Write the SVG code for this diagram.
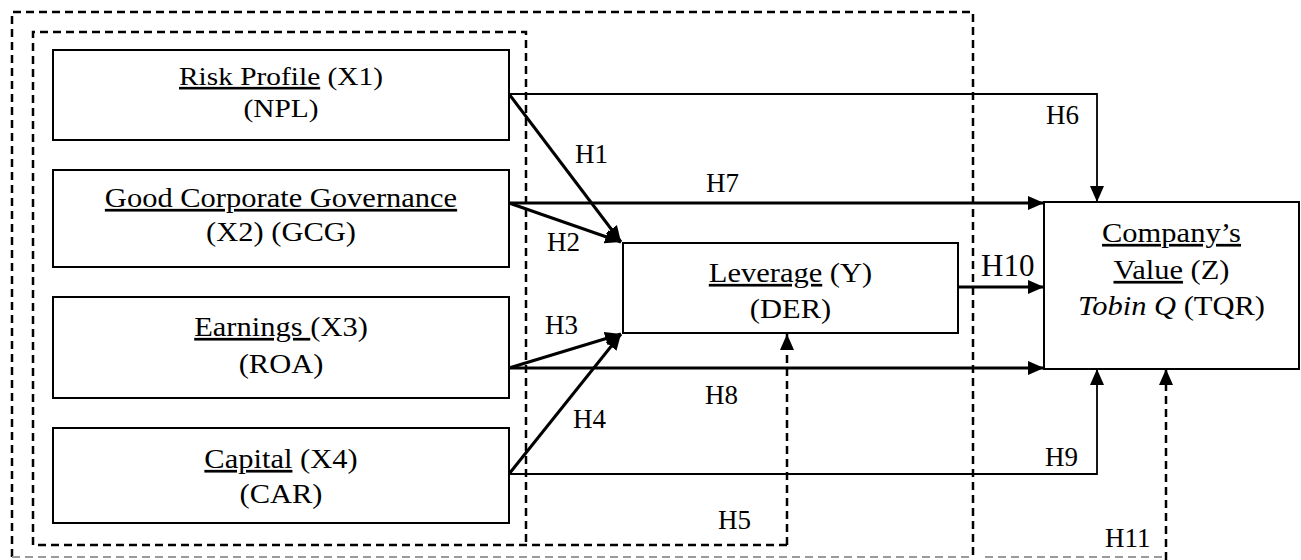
<svg xmlns="http://www.w3.org/2000/svg" width="1301" height="560" viewBox="0 0 1301 560">
  <style>
    .box { fill: #fff; stroke: #000; stroke-width: 2; }
    .txt { font-family: "Liberation Serif", "Times New Roman", serif; font-size: 27px; fill: #000; }
    .lbl { font-family: "Liberation Serif", "Times New Roman", serif; font-size: 27px; fill: #000; }
    .u { text-decoration: underline; }
    .it { font-style: italic; }
    .thick { fill: none; stroke: #000; stroke-width: 3; }
    .thin { fill: none; stroke: #000; stroke-width: 1.8; }
    .dash { fill: none; stroke: #000; stroke-width: 2.5; stroke-dasharray: 8 5; }
    .dashgray { fill: none; stroke: #9a9a9a; stroke-width: 2; stroke-dasharray: 8 5; }
  </style>
  <defs>
    <marker id="arrow" markerUnits="userSpaceOnUse" markerWidth="16" markerHeight="14" refX="16" refY="7" orient="auto">
      <path d="M0,0 L16,7 L0,14 z" fill="#000"/>
    </marker>
  </defs>

  <rect x="0" y="0" width="1301" height="560" fill="#fff"/>

  <!-- dashed grouping frames -->
  <g id="frames">
    <path class="dash" d="M12,557 V12 H973 V560"/>
    <path class="dashgray" d="M12,557 H970"/>
    <path class="dashgray" d="M985,557 H1163"/>
    <path class="dash" d="M787,545 H33 V32 H526 V545"/>
  </g>

  <!-- connectors -->
  <g id="connectors">
    <path class="thin" d="M509,94 H1097 V202" marker-end="url(#arrow)"/>
    <path class="thick" d="M509,94 L621,242" marker-end="url(#arrow)"/>
    <path class="thick" d="M509,203 H1044" marker-end="url(#arrow)"/>
    <path class="thick" d="M509,203 L621,242" marker-end="url(#arrow)"/>
    <path class="thick" d="M509,368 L621,334" marker-end="url(#arrow)"/>
    <path class="thick" d="M509,368 H1044" marker-end="url(#arrow)"/>
    <path class="thick" d="M509,474 L621,334" marker-end="url(#arrow)"/>
    <path class="thin" d="M509,474 H1097 V369" marker-end="url(#arrow)"/>
    <path class="thick" d="M958,287 H1044" marker-end="url(#arrow)"/>
    <path class="dash" d="M787,545 V334" marker-end="url(#arrow)"/>
    <path class="dash" d="M1166,560 V369" marker-end="url(#arrow)"/>

    <text class="lbl" x="575" y="163">H1</text>
    <text class="lbl" x="547" y="251">H2</text>
    <text class="lbl" x="545" y="334">H3</text>
    <text class="lbl" x="573" y="428">H4</text>
    <text class="lbl" x="718" y="529">H5</text>
    <text class="lbl" x="1046" y="124">H6</text>
    <text class="lbl" x="706" y="192">H7</text>
    <text class="lbl" x="705" y="404">H8</text>
    <text class="lbl" x="1045" y="466">H9</text>
    <text class="lbl" x="981" y="276" style="font-size:31px">H10</text>
    <text class="lbl" x="1105" y="547">H11</text>
  </g>

  <!-- independent variables -->
  <g id="node-risk">
    <rect class="box" x="53" y="50" width="456" height="90"/>
    <g transform="translate(281,0) scale(1.13,1)">
      <text class="txt" text-anchor="middle" y="85" style="font-size:26px"><tspan class="u">Risk Profile</tspan> (X1)</text>
      <text class="txt" text-anchor="middle" y="117" style="font-size:26px">(NPL)</text>
    </g>
  </g>

  <g id="node-gcg">
    <rect class="box" x="53" y="170" width="456" height="97"/>
    <g transform="translate(281,0) scale(1.13,1)">
      <text class="txt" text-anchor="middle" y="207"><tspan class="u">Good Corporate Governance</tspan></text>
      <text class="txt" text-anchor="middle" y="241">(X2) (GCG)</text>
    </g>
  </g>

  <g id="node-earnings">
    <rect class="box" x="53" y="297" width="456" height="101"/>
    <g transform="translate(281,0) scale(1.13,1)">
      <text class="txt" text-anchor="middle" y="336"><tspan class="u">Earnings </tspan>(X3)</text>
      <text class="txt" text-anchor="middle" y="373">(ROA)</text>
    </g>
  </g>

  <g id="node-capital">
    <rect class="box" x="53" y="428" width="456" height="95"/>
    <g transform="translate(281,0) scale(1.13,1)">
      <text class="txt" text-anchor="middle" y="468"><tspan class="u">Capital</tspan> (X4)</text>
      <text class="txt" text-anchor="middle" y="503">(CAR)</text>
    </g>
  </g>

  <!-- intervening variable -->
  <g id="node-leverage">
    <rect class="box" x="623" y="243" width="335" height="90"/>
    <g transform="translate(790.5,0) scale(1.13,1)">
      <text class="txt" text-anchor="middle" y="282"><tspan class="u">Leverage</tspan> (Y)</text>
      <text class="txt" text-anchor="middle" y="318">(DER)</text>
    </g>
  </g>

  <!-- dependent variable -->
  <g id="node-value">
    <rect class="box" x="1044" y="202" width="255" height="167"/>
    <g transform="translate(1171.5,0) scale(1.13,1)">
      <text class="txt" text-anchor="middle" y="242"><tspan class="u">Company’s</tspan></text>
      <text class="txt" text-anchor="middle" y="279"><tspan class="u">Value</tspan> (Z)</text>
      <text class="txt" text-anchor="middle" y="315"><tspan class="it">Tobin Q</tspan> (TQR)</text>
    </g>
  </g>
</svg>
